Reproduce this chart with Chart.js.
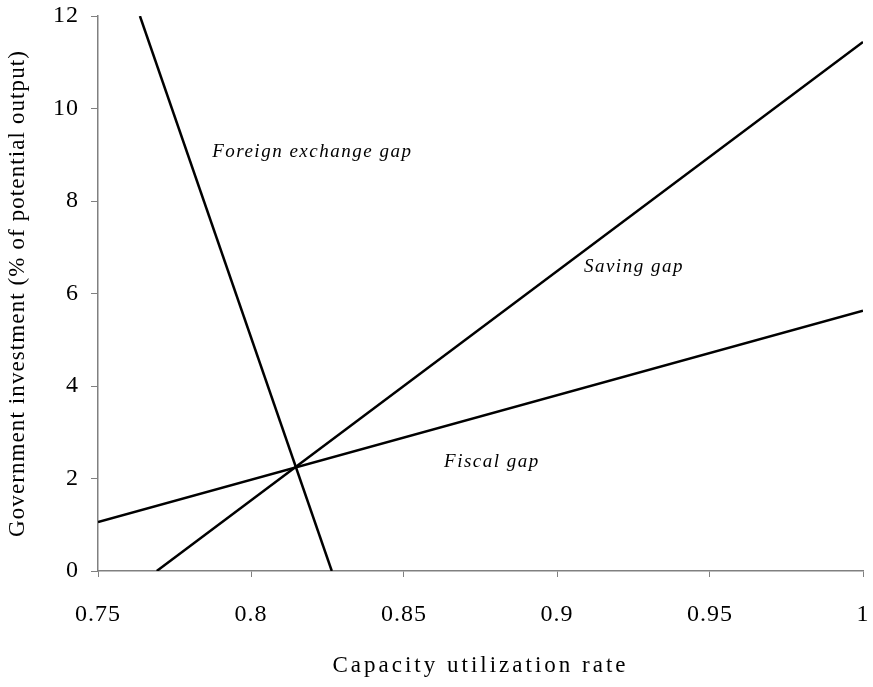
<!DOCTYPE html>
<html>
<head>
<meta charset="utf-8">
<script src="https://cdn.jsdelivr.net/npm/chart.js@4/dist/chart.umd.min.js"></script>
<style>
  html, body { margin: 0; padding: 0; background: #fff; }
  #wrap { width: 873px; height: 687px; }
</style>
</head>
<body>
<div id="wrap"><canvas id="gapChart"></canvas></div>
<script>
// endpoints (capacity utilization, % of potential output)
const fiscalX = [0.75, 1.0];
const fiscalY = [1.06, 5.63];
const savingX = [0.7692, 1.0];
const savingY = [0, 11.44];
const forexX = [0.7637, 0.8264];
const forexY = [12, 0];
const xTicks = [0.75, 0.8, 0.85, 0.9, 0.95, 1];
const yTicks = [0, 2, 4, 6, 8, 10, 12];

// curve names, placed at data coordinates
const gapNames = ['Foreign exchange gap', 'Saving gap', 'Fiscal gap'];
const nameX = [0.7873, 0.9088, 0.8631];
const nameY = [9.06, 6.57, 2.36];

const xTitle = 'Capacity utilization rate';
const yTitle = 'Government investment (% of potential output)';

const serif = '"Liberation Serif", "DejaVu Serif", serif';

function toPoints(xs, ys) {
    return xs.map((x, i) => ({ x: x, y: ys[i] }));
}

const lineStyle = {
    showLine: true,
    borderColor: '#000',
    borderWidth: 2.5,
    pointRadius: 0,
    fill: false
};

// the reference text is a little letter-spaced, so the labels and titles are drawn here
const gapText = {
    id: 'gapText',
    beforeDraw(chart) {
        chart.ctx.letterSpacing = '1px';
    },
    afterDatasetsDraw(chart) {
        const ctx = chart.ctx;
        const xs = chart.scales.x, ys = chart.scales.y;
        const area = chart.chartArea;
        ctx.save();
        ctx.fillStyle = '#000';

        ctx.font = 'italic 19px ' + serif;
        ctx.letterSpacing = '1.5px';
        ctx.textAlign = 'left';
        ctx.textBaseline = 'middle';
        gapNames.forEach((name, i) => {
            ctx.fillText(name, xs.getPixelForValue(nameX[i]), ys.getPixelForValue(nameY[i]));
        });

        ctx.font = '23px ' + serif;
        ctx.letterSpacing = '3px';
        ctx.textAlign = 'center';
        ctx.fillText(xTitle, (area.left + area.right) / 2, 666);

        ctx.letterSpacing = '1.1px';
        ctx.translate(18, (area.top + area.bottom) / 2);
        ctx.rotate(-Math.PI / 2);
        ctx.fillText(yTitle, 0, 0);
        ctx.restore();
    }
};

new Chart(document.getElementById('gapChart'), {
    type: 'scatter',
    data: {
        datasets: [
            Object.assign({ label: 'Fiscal gap', data: toPoints(fiscalX, fiscalY) }, lineStyle),
            Object.assign({ label: 'Saving gap', data: toPoints(savingX, savingY) }, lineStyle),
            Object.assign({ label: 'Foreign exchange gap', data: toPoints(forexX, forexY) }, lineStyle)
        ]
    },
    options: {
        responsive: true,
        maintainAspectRatio: false,
        animation: false,
        layout: { padding: { left: 0, right: 10, top: 16, bottom: 0 } },
        plugins: {
            legend: { display: false },
            tooltip: { enabled: false }
        },
        scales: {
            x: {
                type: 'linear',
                min: 0.75,
                max: 1,
                afterBuildTicks: s => { s.ticks = xTicks.map(v => ({ value: v })); },
                afterFit: s => { s.height = 116; s.paddingLeft = 0; s.paddingRight = 0; },
                ticks: {
                    color: '#000',
                    padding: 23,
                    font: { family: serif, size: 24 },
                    callback: v => String(v)
                },
                grid: { drawOnChartArea: false, tickLength: 6, color: '#808080' },
                border: { color: '#808080', width: 1.5 }
            },
            y: {
                type: 'linear',
                min: 0,
                max: 12,
                afterBuildTicks: s => { s.ticks = yTicks.map(v => ({ value: v })); },
                afterFit: s => { s.width = 98; s.paddingTop = 0; s.paddingBottom = 0; },
                ticks: {
                    color: '#000',
                    padding: 12,
                    font: { family: serif, size: 24 },
                    callback: v => String(v)
                },
                grid: { drawOnChartArea: false, tickLength: 7, color: '#808080' },
                border: { color: '#808080', width: 1.5 }
            }
        }
    },
    plugins: [gapText]
});
</script>
</body>
</html>
